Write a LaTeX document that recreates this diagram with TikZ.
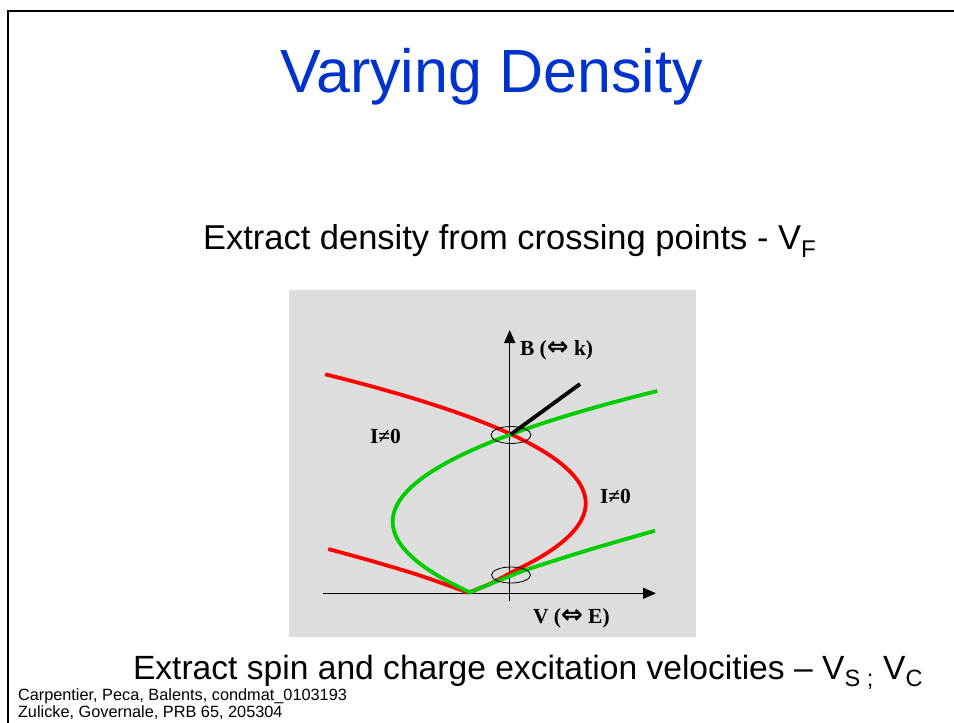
\documentclass[tikz,border=0pt]{standalone}
\usepackage{fontspec}
\setmainfont{Liberation Sans}
\newfontfamily\labfont{Liberation Serif}
\newfontfamily\symfont{DejaVu Sans}
\usetikzlibrary{arrows.meta}
\definecolor{titleblue}{RGB}{0,51,204}
\definecolor{panelgray}{RGB}{221,221,221}
\definecolor{curvered}{RGB}{255,0,0}
\definecolor{curvegreen}{RGB}{0,204,0}
\tikzset{
  txt/.style={anchor=base west, inner sep=0pt, outer sep=0pt},
  lab/.style={txt, font=\labfont\bfseries\fontsize{21.5}{24}\selectfont},
  axis/.style={line width=1.5pt, -{Triangle[length=13pt,width=11pt]}},
  redcurve/.style={draw=curvered, line width=3.8pt, line join=round},
  greencurve/.style={draw=curvegreen, line width=3.8pt, line join=round},
  marker/.style={draw=black, line width=0.8pt},
}
\newcommand{\dblarrow}{{\symfont\bfseries\fontsize{26}{26}\selectfont ⇔}}
\begin{document}
\begin{tikzpicture}[x=1pt,y=-1pt]
\useasboundingbox (0,0) rectangle (954,723);
\fill[white] (0,0) rectangle (954,723);
% slide frame
\draw[line width=2pt] (8,723) -- (8,11) -- (954,11);
% texts
\node[txt, text=titleblue, font=\fontsize{61}{70}\selectfont] (title) at (280,92) {Varying Density};
\node[txt, font=\fontsize{34.5}{40}\selectfont] (sub) at (203,249) {Extract density from crossing points - V\textsubscript{F}};
\node[txt, font=\fontsize{33.6}{40}\selectfont] (bottom) at (133,679) {Extract spin and charge excitation velocities – V\textsubscript{S ;} V\textsubscript{C}};
\node[txt, font=\fontsize{16.3}{18}\selectfont] (cite1) at (18,700) {Carpentier, Peca, Balents, condmat\_0103193};
\node[txt, font=\fontsize{16.3}{18}\selectfont] (cite2) at (18,717) {Zulicke, Governale, PRB 65, 205304};
% panel
\fill[panelgray] (289,290) rectangle (696,637);
% axes
\coordinate (xs) at (323,593.3);
\coordinate (xe) at (656,593.3);
\coordinate (ys) at (509.7,601);
\coordinate (ye) at (509.7,330);
\draw[axis] (xs) -- (xe);
\draw[axis] (ys) -- (ye);
% red curves
\draw[redcurve] plot[domain=374.3:570, samples=90] ({585.7-(0.1251*(\x-503.3))^2}, \x) -- (490,584) -- (468.5,592.7);
\draw[redcurve] plot[smooth] coordinates {(328.3,549) (370,560.5) (420,575.5) (468.5,592.7)};
% green curves
\draw[greencurve] plot[domain=391:592.7, samples=90] ({392.7+(0.12446*(\x-521.7))^2}, \x);
\draw[greencurve] plot[smooth] coordinates {(469,592.7) (510,576) (530,568.5) (590,549.5) (655,530.7)};
% black line
\coordinate (cross) at (510.7,434.5);
\coordinate (blk) at (580,384);
\draw[line width=3.8pt] (cross) -- (blk);
% ellipses
\draw[marker] (511,435) ellipse [x radius=20pt, y radius=8.5pt];
\draw[marker] (511,575) ellipse [x radius=19.5pt, y radius=8pt];
% labels
\node[lab] (blab) at (520,355) {B (\dblarrow\ k)};
\node[lab] (vlab) at (533,623) {V (\dblarrow\ E)};
\node[lab] (i1) at (370,443) {I≠0};
\node[lab] (i2) at (600,503) {I≠0};
\end{tikzpicture}
\end{document}
